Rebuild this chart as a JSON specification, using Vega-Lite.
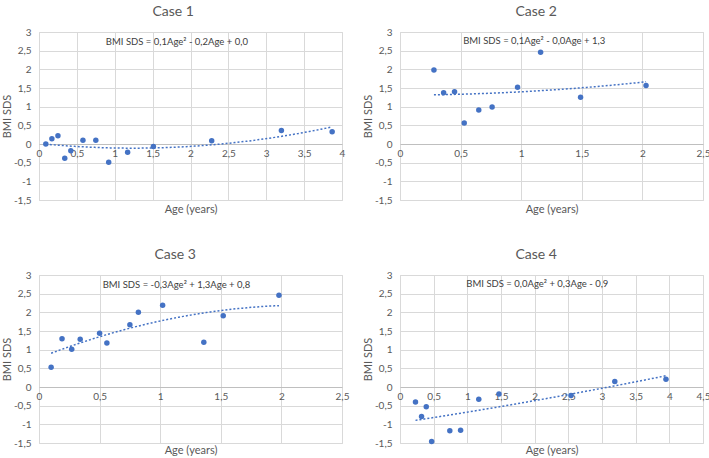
{
  "$schema": "https://vega.github.io/schema/vega-lite/v6.json",
  "background": "white",
  "padding": {"left": 0, "top": 4, "right": 0, "bottom": 0},
  "columns": 2,
  "spacing": {"row": 32, "column": 11},
  "datasets": {
    "bmi": [
      {"case": "Case 1", "age": 0.09, "bmi": 0.0},
      {"case": "Case 1", "age": 0.17, "bmi": 0.14},
      {"case": "Case 1", "age": 0.25, "bmi": 0.22},
      {"case": "Case 1", "age": 0.34, "bmi": -0.38},
      {"case": "Case 1", "age": 0.42, "bmi": -0.18},
      {"case": "Case 1", "age": 0.58, "bmi": 0.1},
      {"case": "Case 1", "age": 0.75, "bmi": 0.1},
      {"case": "Case 1", "age": 0.92, "bmi": -0.49},
      {"case": "Case 1", "age": 1.17, "bmi": -0.22},
      {"case": "Case 1", "age": 1.51, "bmi": -0.07},
      {"case": "Case 1", "age": 2.28, "bmi": 0.09},
      {"case": "Case 1", "age": 3.2, "bmi": 0.36},
      {"case": "Case 1", "age": 3.87, "bmi": 0.33},
      {"case": "Case 2", "age": 0.28, "bmi": 1.98},
      {"case": "Case 2", "age": 0.36, "bmi": 1.37},
      {"case": "Case 2", "age": 0.45, "bmi": 1.4},
      {"case": "Case 2", "age": 0.53, "bmi": 0.56},
      {"case": "Case 2", "age": 0.65, "bmi": 0.91},
      {"case": "Case 2", "age": 0.76, "bmi": 0.99},
      {"case": "Case 2", "age": 0.97, "bmi": 1.52},
      {"case": "Case 2", "age": 1.16, "bmi": 2.46},
      {"case": "Case 2", "age": 1.49, "bmi": 1.25},
      {"case": "Case 2", "age": 2.03, "bmi": 1.57},
      {"case": "Case 3", "age": 0.1, "bmi": 0.53},
      {"case": "Case 3", "age": 0.19, "bmi": 1.29},
      {"case": "Case 3", "age": 0.27, "bmi": 1.01},
      {"case": "Case 3", "age": 0.34, "bmi": 1.28},
      {"case": "Case 3", "age": 0.5, "bmi": 1.44},
      {"case": "Case 3", "age": 0.56, "bmi": 1.18},
      {"case": "Case 3", "age": 0.75, "bmi": 1.67},
      {"case": "Case 3", "age": 0.82, "bmi": 2.0},
      {"case": "Case 3", "age": 1.02, "bmi": 2.19},
      {"case": "Case 3", "age": 1.36, "bmi": 1.2},
      {"case": "Case 3", "age": 1.52, "bmi": 1.91},
      {"case": "Case 3", "age": 1.98, "bmi": 2.46},
      {"case": "Case 4", "age": 0.23, "bmi": -0.4},
      {"case": "Case 4", "age": 0.32, "bmi": -0.79},
      {"case": "Case 4", "age": 0.39, "bmi": -0.53},
      {"case": "Case 4", "age": 0.47, "bmi": -1.46},
      {"case": "Case 4", "age": 0.74, "bmi": -1.17},
      {"case": "Case 4", "age": 0.9, "bmi": -1.16},
      {"case": "Case 4", "age": 1.17, "bmi": -0.33},
      {"case": "Case 4", "age": 1.47, "bmi": -0.19},
      {"case": "Case 4", "age": 2.54, "bmi": -0.23},
      {"case": "Case 4", "age": 3.19, "bmi": 0.15},
      {"case": "Case 4", "age": 3.95, "bmi": 0.21}
    ]
  },
  "concat": [
    {
      "title": {"text": "Case 1", "frame": "bounds"},
      "width": 303,
      "height": 168,
      "layer": [
        {
          "data": {"name": "bmi"},
          "transform": [
            {"filter": "datum.case === 'Case 1'"},
            {"regression": "bmi", "on": "age", "method": "poly", "order": 2}
          ],
          "mark": {"type": "line", "color": "#4472C4", "strokeDash": [2, 2], "strokeWidth": 1.5},
          "encoding": {
            "x": {"field": "age", "type": "quantitative", "scale": {"domain": [0, 4], "nice": false, "zero": false},
              "axis": {"title": "Age (years)", "values": [0, 0.5, 1, 1.5, 2, 2.5, 3, 3.5, 4], "tickCount": 30, "offset": -56, "titleY": 65, "titleBaseline": "middle", "labelFlush": false, "labelOverlap": false, "ticks": false, "domainColor": "#bfbfbf", "labelPadding": 4, "labelExpr": "replace('' + datum.value, '.', ',')"}},
            "y": {"field": "bmi", "type": "quantitative", "scale": {"domain": [-1.5, 3], "nice": false, "zero": false},
              "axis": {"title": "BMI SDS", "values": [-1.5, -1, -0.5, 0, 0.5, 1, 1.5, 2, 2.5, 3], "tickCount": 30, "labelOverlap": false, "domain": false, "ticks": false, "labelPadding": 8, "titlePadding": 1, "labelExpr": "replace('' + datum.value, '.', ',')"}}
          }
        },
        {
          "data": {"name": "bmi"},
          "transform": [{"filter": "datum.case === 'Case 1'"}],
          "mark": {"type": "circle", "size": 30, "color": "#4472C4", "opacity": 1},
          "encoding": {"x": {"field": "age", "type": "quantitative"}, "y": {"field": "bmi", "type": "quantitative"}}
        },
        {
          "data": {"values": [{"equation": "BMI SDS = 0,1Age² - 0,2Age + 0,0"}]},
          "mark": {"type": "text", "fontSize": 9.5, "color": "#404040"},
          "encoding": {"x": {"datum": 1.82}, "y": {"datum": 2.73}, "text": {"field": "equation"}}
        }
      ]
    },
    {
      "title": {"text": "Case 2", "frame": "bounds"},
      "width": 303,
      "height": 168,
      "layer": [
        {
          "data": {"name": "bmi"},
          "transform": [
            {"filter": "datum.case === 'Case 2'"},
            {"regression": "bmi", "on": "age", "method": "poly", "order": 2}
          ],
          "mark": {"type": "line", "color": "#4472C4", "strokeDash": [2, 2], "strokeWidth": 1.5},
          "encoding": {
            "x": {"field": "age", "type": "quantitative", "scale": {"domain": [0, 2.5], "nice": false, "zero": false},
              "axis": {"title": "Age (years)", "values": [0, 0.5, 1, 1.5, 2, 2.5], "tickCount": 30, "offset": -56, "titleY": 65, "titleBaseline": "middle", "labelFlush": false, "labelOverlap": false, "ticks": false, "domainColor": "#bfbfbf", "labelPadding": 4, "labelExpr": "replace('' + datum.value, '.', ',')"}},
            "y": {"field": "bmi", "type": "quantitative", "scale": {"domain": [-1.5, 3], "nice": false, "zero": false},
              "axis": {"title": "BMI SDS", "values": [-1.5, -1, -0.5, 0, 0.5, 1, 1.5, 2, 2.5, 3], "tickCount": 30, "labelOverlap": false, "domain": false, "ticks": false, "labelPadding": 8, "titlePadding": 1, "labelExpr": "replace('' + datum.value, '.', ',')"}}
          }
        },
        {
          "data": {"name": "bmi"},
          "transform": [{"filter": "datum.case === 'Case 2'"}],
          "mark": {"type": "circle", "size": 30, "color": "#4472C4", "opacity": 1},
          "encoding": {"x": {"field": "age", "type": "quantitative"}, "y": {"field": "bmi", "type": "quantitative"}}
        },
        {
          "data": {"values": [{"equation": "BMI SDS = 0,1Age² - 0,0Age + 1,3"}]},
          "mark": {"type": "text", "fontSize": 9.5, "color": "#404040"},
          "encoding": {"x": {"datum": 1.107}, "y": {"datum": 2.75}, "text": {"field": "equation"}}
        }
      ]
    },
    {
      "title": {"text": "Case 3", "frame": "bounds"},
      "width": 303,
      "height": 168,
      "layer": [
        {
          "data": {"name": "bmi"},
          "transform": [
            {"filter": "datum.case === 'Case 3'"},
            {"regression": "bmi", "on": "age", "method": "poly", "order": 2}
          ],
          "mark": {"type": "line", "color": "#4472C4", "strokeDash": [2, 2], "strokeWidth": 1.5},
          "encoding": {
            "x": {"field": "age", "type": "quantitative", "scale": {"domain": [0, 2.5], "nice": false, "zero": false},
              "axis": {"title": "Age (years)", "values": [0, 0.5, 1, 1.5, 2, 2.5], "tickCount": 30, "offset": -56, "titleY": 63, "titleBaseline": "middle", "labelFlush": false, "labelOverlap": false, "ticks": false, "domainColor": "#bfbfbf", "labelPadding": 4, "labelExpr": "replace('' + datum.value, '.', ',')"}},
            "y": {"field": "bmi", "type": "quantitative", "scale": {"domain": [-1.5, 3], "nice": false, "zero": false},
              "axis": {"title": "BMI SDS", "values": [-1.5, -1, -0.5, 0, 0.5, 1, 1.5, 2, 2.5, 3], "tickCount": 30, "labelOverlap": false, "domain": false, "ticks": false, "labelPadding": 8, "titlePadding": 1, "labelExpr": "replace('' + datum.value, '.', ',')"}}
          }
        },
        {
          "data": {"name": "bmi"},
          "transform": [{"filter": "datum.case === 'Case 3'"}],
          "mark": {"type": "circle", "size": 30, "color": "#4472C4", "opacity": 1},
          "encoding": {"x": {"field": "age", "type": "quantitative"}, "y": {"field": "bmi", "type": "quantitative"}}
        },
        {
          "data": {"values": [{"equation": "BMI SDS = -0,3Age² + 1,3Age + 0,8"}]},
          "mark": {"type": "text", "fontSize": 9.5, "color": "#404040"},
          "encoding": {"x": {"datum": 1.134}, "y": {"datum": 2.73}, "text": {"field": "equation"}}
        }
      ]
    },
    {
      "title": {"text": "Case 4", "frame": "bounds"},
      "width": 303,
      "height": 168,
      "layer": [
        {
          "data": {"name": "bmi"},
          "transform": [
            {"filter": "datum.case === 'Case 4'"},
            {"regression": "bmi", "on": "age", "method": "poly", "order": 2}
          ],
          "mark": {"type": "line", "color": "#4472C4", "strokeDash": [2, 2], "strokeWidth": 1.5},
          "encoding": {
            "x": {"field": "age", "type": "quantitative", "scale": {"domain": [0, 4.5], "nice": false, "zero": false},
              "axis": {"title": "Age (years)", "values": [0, 0.5, 1, 1.5, 2, 2.5, 3, 3.5, 4, 4.5], "tickCount": 30, "offset": -56, "titleY": 63, "titleBaseline": "middle", "labelFlush": false, "labelOverlap": false, "ticks": false, "domainColor": "#bfbfbf", "labelPadding": 4, "labelExpr": "replace('' + datum.value, '.', ',')"}},
            "y": {"field": "bmi", "type": "quantitative", "scale": {"domain": [-1.5, 3], "nice": false, "zero": false},
              "axis": {"title": "BMI SDS", "values": [-1.5, -1, -0.5, 0, 0.5, 1, 1.5, 2, 2.5, 3], "tickCount": 30, "labelOverlap": false, "domain": false, "ticks": false, "labelPadding": 8, "titlePadding": 1, "labelExpr": "replace('' + datum.value, '.', ',')"}}
          }
        },
        {
          "data": {"name": "bmi"},
          "transform": [{"filter": "datum.case === 'Case 4'"}],
          "mark": {"type": "circle", "size": 30, "color": "#4472C4", "opacity": 1},
          "encoding": {"x": {"field": "age", "type": "quantitative"}, "y": {"field": "bmi", "type": "quantitative"}}
        },
        {
          "data": {"values": [{"equation": "BMI SDS = 0,0Age² + 0,3Age - 0,9"}]},
          "mark": {"type": "text", "fontSize": 9.5, "color": "#404040"},
          "encoding": {"x": {"datum": 2.04}, "y": {"datum": 2.76}, "text": {"field": "equation"}}
        }
      ]
    }
  ],
  "config": {
    "font": "Lato",
    "view": {"stroke": "#d9d9d9"},
    "axis": {"labelColor": "#595959", "titleColor": "#595959", "labelFontSize": 10, "titleFontSize": 11, "titleFontWeight": "normal", "gridColor": "#d9d9d9", "grid": true},
    "title": {"fontSize": 14, "fontWeight": "normal", "color": "#595959", "frame": "bounds", "anchor": "middle", "offset": 8}
  }
}
